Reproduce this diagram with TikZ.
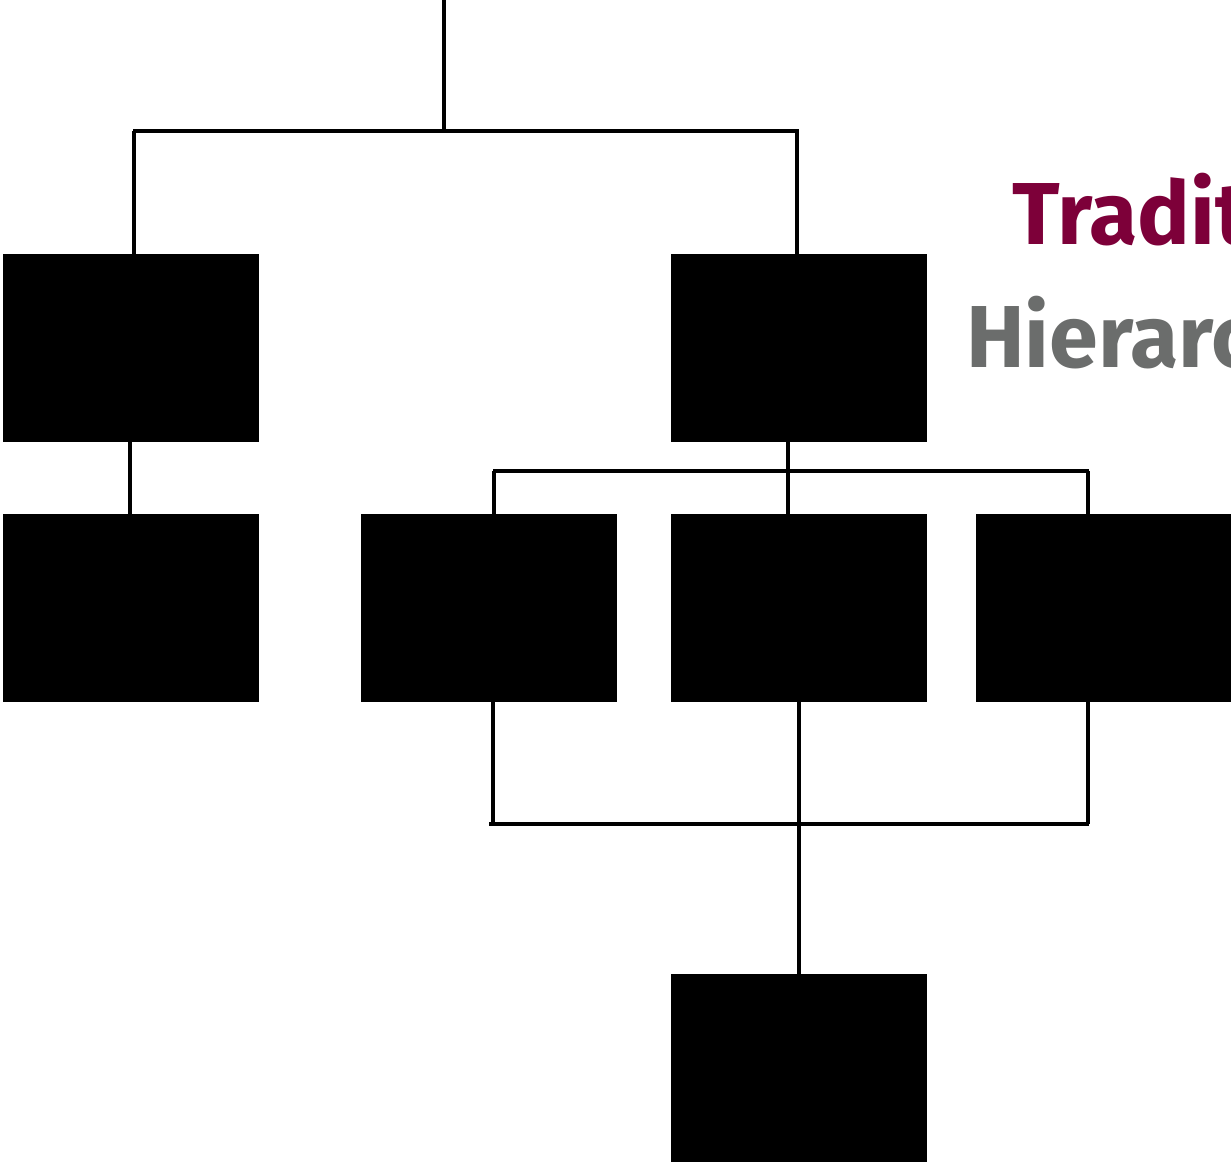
\documentclass[tikz,border=0pt]{standalone}
\usepackage{fontspec}
\setmainfont{Fira Sans}
\definecolor{maroon}{HTML}{7D0039}
\definecolor{slate}{HTML}{6B6D6C}
\begin{document}
\begin{tikzpicture}[x=1pt,y=-1pt,
  unit/.style={fill=black,inner sep=0pt,minimum width=256pt,minimum height=188pt,anchor=north west},
  conn/.style={line width=3.4pt,black},
  title/.style={font=\fontsize{88}{92}\selectfont\bfseries,anchor=base west,inner sep=0pt}]
\useasboundingbox (0,0) rectangle (1231,1162);
\clip (0,0) rectangle (1231,1162);
% organisational units
\node[unit] (a) at (3,254) {};
\node[unit] (b) at (671,254) {};
\node[unit] (c) at (3,514) {};
\node[unit] (d) at (361,514) {};
\node[unit] (e) at (671,514) {};
\node[unit] (f) at (976,514) {};
\node[unit] (g) at (671,974) {};
% titles
\node[title,text=maroon] (t1) at (1012,244) {Traditional};
\node[title,text=slate] (t2) at (966,367) {Hierarchical};
% junction points
\coordinate (root) at (444,0);
\coordinate (j1) at (444,131);
\coordinate (j1l) at (133,131);
\coordinate (j1r) at (799,131);
\coordinate (j2) at (788,471);
\coordinate (j2l) at (493,471);
\coordinate (j2r) at (1089,471);
\coordinate (j3) at (799,824);
\coordinate (j3l) at (489,824);
\coordinate (j3r) at (1089,824);
% top level
\draw[conn] (root) -- (j1);
\draw[conn] (j1l) -- (j1r);
\draw[conn] ([xshift=1pt]j1l) -- ([xshift=1pt]j1l |- a.north);
\draw[conn] ([xshift=-2pt]j1r) -- ([xshift=-2pt]j1r |- b.north);
% left branch
\draw[conn] (a.south -| 130,0) -- (c.north -| 130,0);
% right branch fan-out
\draw[conn] (b.south -| j2) -- (e.north -| j2);
\draw[conn] (j2l) -- (j2r);
\draw[conn] ([xshift=1pt]j2l) -- ([xshift=1pt]j2l |- d.north);
\draw[conn] ([xshift=-1pt]j2r) -- ([xshift=-1pt]j2r |- f.north);
% fan-in to bottom unit
\draw[conn] (d.south -| 493,0) -- (493,824);
\draw[conn] (f.south -| 1088,0) -- (1088,824);
\draw[conn] (j3l) -- (j3r);
\draw[conn] (e.south -| j3) -- (g.north -| j3);
\end{tikzpicture}
\end{document}
